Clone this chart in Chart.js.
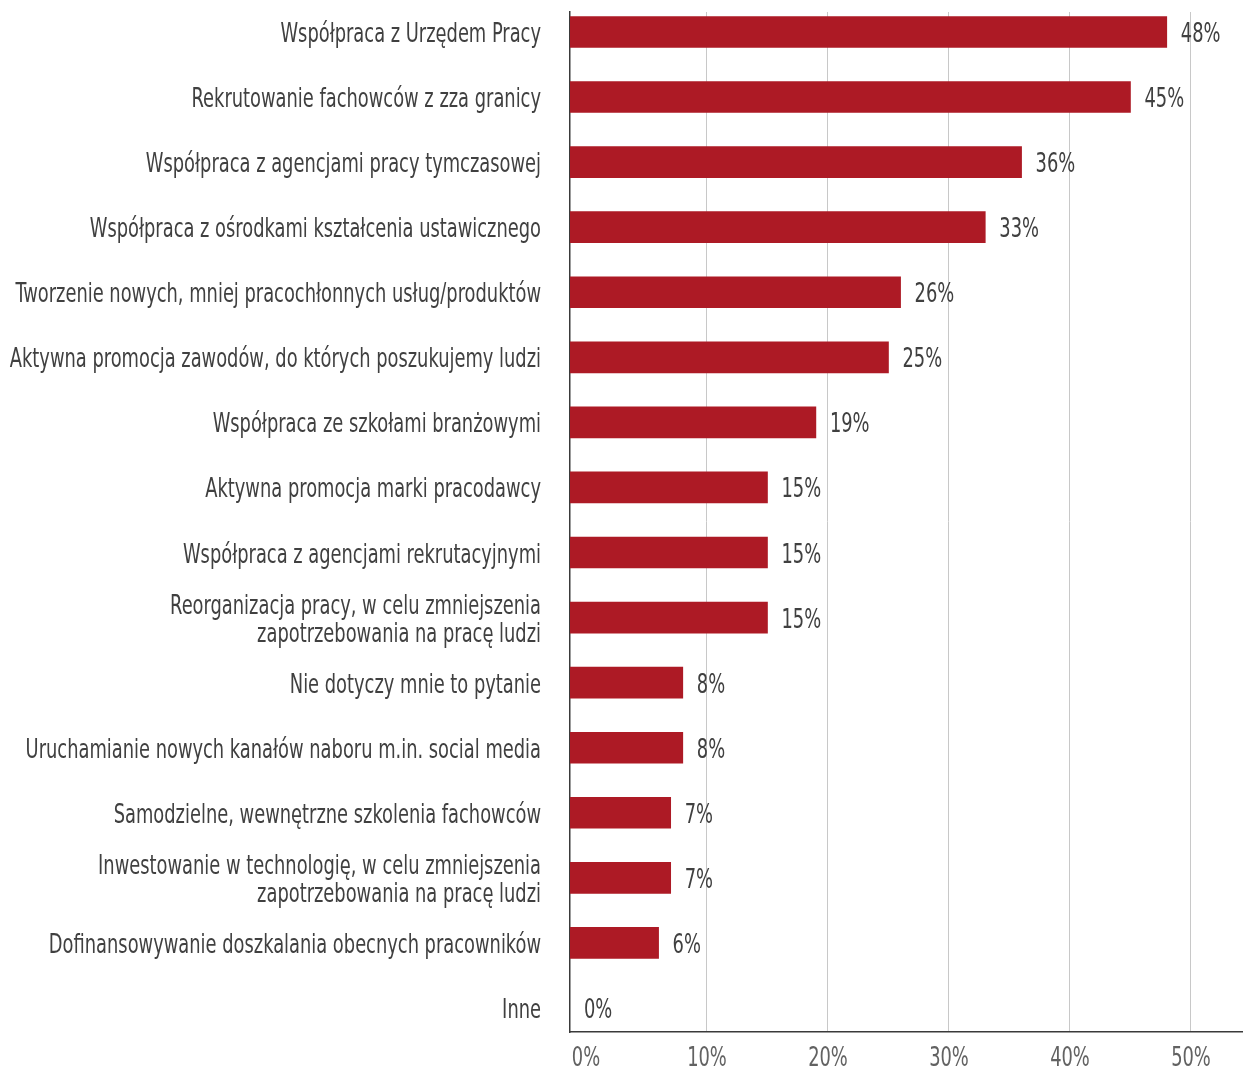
<!DOCTYPE html>
<html lang="pl">
<head>
<meta charset="utf-8">
<title>Działania wobec braku pracowników</title>
<script src="https://cdn.jsdelivr.net/npm/chart.js@4.4.1/dist/chart.umd.min.js"></script>
<style>
  html, body { margin: 0; padding: 0; background: #fff; }
  #wrap { width: 1243px; height: 1070px; position: relative; }
</style>
</head>
<body>
<div id="wrap"><canvas id="chart"></canvas></div>
<script>
// --------------------
// Data
// --------------------
const actions = [
  'Współpraca z Urzędem Pracy',
  'Rekrutowanie fachowców z zza granicy',
  'Współpraca z agencjami pracy tymczasowej',
  'Współpraca z ośrodkami kształcenia ustawicznego',
  'Tworzenie nowych, mniej pracochłonnych usług/produktów',
  'Aktywna promocja zawodów, do których poszukujemy ludzi',
  'Współpraca ze szkołami branżowymi',
  'Aktywna promocja marki pracodawcy',
  'Współpraca z agencjami rekrutacyjnymi',
  'Reorganizacja pracy, w celu zmniejszenia\nzapotrzebowania na pracę ludzi',
  'Nie dotyczy mnie to pytanie',
  'Uruchamianie nowych kanałów naboru m.in. social media',
  'Samodzielne, wewnętrzne szkolenia fachowców',
  'Inwestowanie w technologię, w celu zmniejszenia\nzapotrzebowania na pracę ludzi',
  'Dofinansowywanie doszkalania obecnych pracowników',
  'Inne'
];
const shares = [48, 45, 36, 33, 26, 25, 19, 15, 15, 15, 8, 8, 7, 7, 6, 0];
const xTicks = [0, 10, 20, 30, 40, 50];

// --------------------
// Styling
// --------------------
const FONT = '"DejaVu Sans Condensed", "Liberation Sans Narrow", "Liberation Sans", sans-serif';
const FONT_SIZE = 27;
const SQUEEZE = 0.735;     // horizontal compression for a narrow look
const CAP = 20;            // approx cap height at FONT_SIZE
const LINE_H = 28;
const BAR_COLOR = '#ad1a25';
const AXIS_MIN = -1.322;   // bars start a little left of the 0% tick

function squeezedText(ctx, text, x, y, align) {
  ctx.save();
  ctx.translate(x, y);
  ctx.scale(SQUEEZE, 1);
  ctx.textAlign = align;
  ctx.textBaseline = 'alphabetic';
  ctx.fillText(text, 0, 0);
  ctx.restore();
}

// --------------------
// Text layer: category labels, x tick labels, bar values
// --------------------
const textLayer = {
  id: 'textLayer',
  afterDraw(chart) {
    const { ctx, scales: { x, y } } = chart;
    ctx.save();
    ctx.font = FONT_SIZE + 'px ' + FONT;

    // category labels, right aligned against the axis
    ctx.fillStyle = '#404040';
    y.ticks.forEach(t => {
      const lines = actions[t.value].split('\n');
      const py = y.getPixelForValue(t.value);
      lines.forEach((line, k) => {
        const off = (k - (lines.length - 1) / 2) * LINE_H;
        squeezedText(ctx, line, x.left - 29, py + off + CAP / 2, 'right');
      });
    });

    // x tick labels
    ctx.fillStyle = '#626262';
    x.ticks.forEach(t => {
      squeezedText(ctx, t.value + '%', x.getPixelForValue(t.value), x.top + 34, 'center');
    });

    // bar values
    ctx.fillStyle = '#404040';
    chart.getDatasetMeta(0).data.forEach((bar, i) => {
      const v = shares[i];
      const end = v > 0 ? bar.x : bar.base;
      squeezedText(ctx, v + '%', end + 14, bar.y + CAP / 2, 'left');
    });
    ctx.restore();
  }
};

new Chart(document.getElementById('chart'), {
  type: 'bar',
  data: {
    datasets: [{
      data: shares.map((v, i) => ({ x: v, y: i })),
      base: AXIS_MIN,
      backgroundColor: c => (shares[c.dataIndex] > 0 ? BAR_COLOR : 'transparent'),
      barThickness: 31
    }]
  },
  options: {
    indexAxis: 'y',
    responsive: true,
    maintainAspectRatio: false,
    animation: false,
    layout: { padding: { top: 12, right: 0, bottom: 0, left: 0 } },
    plugins: { legend: { display: false }, tooltip: { enabled: false } },
    scales: {
      y: {
        type: 'linear',
        reverse: true,
        offset: false,
        min: -0.307,
        max: 15.369,
        afterBuildTicks: axis => { axis.ticks = actions.map((_, i) => ({ value: i })); },
        afterFit: axis => { axis.width = 570; },
        grid: { offset: false, drawOnChartArea: false, drawTicks: false },
        border: { color: '#3a3a3a', width: 1.5 },
        ticks: { display: false }
      },
      x: {
        type: 'linear',
        min: AXIS_MIN,
        max: 54.3,
        afterBuildTicks: axis => { axis.ticks = xTicks.map(v => ({ value: v })); },
        afterFit: axis => { axis.height = 38; },
        grid: {
          drawTicks: false,
          color: c => (c.tick && c.tick.value === 0 ? 'transparent' : '#c8c8c8'),
          lineWidth: 1
        },
        border: { color: '#3a3a3a', width: 1.5 },
        ticks: { display: false }
      }
    }
  },
  plugins: [textLayer]
});
</script>
</body>
</html>
